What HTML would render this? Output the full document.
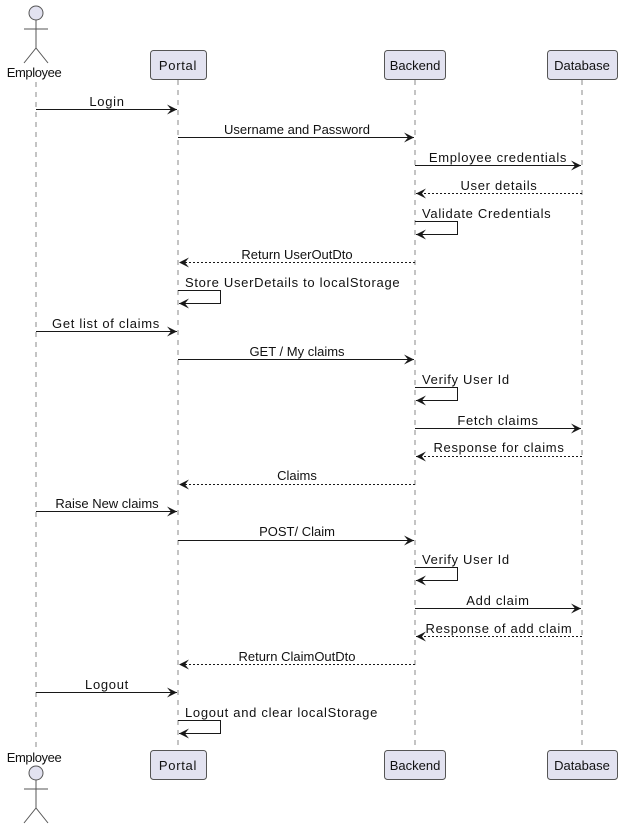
<!DOCTYPE html>
<html><head><meta charset="utf-8"><style>
html,body{margin:0;padding:0;background:#fff;}
svg{display:block;}
text{font-family:"Liberation Sans",sans-serif;font-size:13px;fill:#111;}
.sp{letter-spacing:0.7px;}
</style></head><body>
<svg width="623" height="830" viewBox="0 0 623 830" xmlns="http://www.w3.org/2000/svg">
<defs>
<marker id="a" viewBox="0 0 10 10" refX="10" refY="5" markerWidth="10" markerHeight="10" markerUnits="userSpaceOnUse" orient="auto">
<path d="M0,0 L10,5 L0,10 L4,5 Z" fill="#181818"/>
</marker>
</defs>
<g stroke="#888" stroke-dasharray="5,5" stroke-width="1">
<line x1="36" y1="82" x2="36" y2="752"/>
<line x1="178" y1="80" x2="178" y2="750"/>
<line x1="415" y1="80" x2="415" y2="750"/>
<line x1="582" y1="80" x2="582" y2="750"/>
</g>
<g fill="#e2e2f0" stroke="#555" stroke-width="1">
<rect x="150.5" y="50.5" width="56" height="29" rx="3"/>
<rect x="384.5" y="50.5" width="61" height="29" rx="3"/>
<rect x="547.5" y="50.5" width="70" height="29" rx="3"/>
<rect x="150.5" y="750.5" width="56" height="29" rx="3"/>
<rect x="384.5" y="750.5" width="61" height="29" rx="3"/>
<rect x="547.5" y="750.5" width="70" height="29" rx="3"/>
<circle cx="36" cy="13" r="7"/>
<circle cx="36" cy="773" r="7"/>
</g>
<g stroke="#555" stroke-width="1" fill="none">
<line x1="36" y1="20" x2="36" y2="48"/><line x1="24" y1="29" x2="48" y2="29"/>
<path d="M24,63 L36,48 L48,63"/>
<line x1="36" y1="780" x2="36" y2="808"/><line x1="24" y1="789" x2="48" y2="789"/>
<path d="M24,823 L36,808 L48,823"/>
</g>
<text x="178" y="70" text-anchor="middle" font-size="14" class="sp">Portal</text>
<text x="415" y="70" text-anchor="middle">Backend</text>
<text x="582" y="70" text-anchor="middle">Database</text>
<text x="178" y="770" text-anchor="middle" font-size="14" class="sp">Portal</text>
<text x="415" y="770" text-anchor="middle">Backend</text>
<text x="582" y="770" text-anchor="middle">Database</text>
<text x="34" y="77" text-anchor="middle" style="letter-spacing:-0.4px">Employee</text>
<text x="34" y="762" text-anchor="middle" style="letter-spacing:-0.4px">Employee</text>
<g stroke="#181818" stroke-width="1" fill="none">
<line x1="36" y1="109.5" x2="177" y2="109.5" marker-end="url(#a)"/>
<line x1="178" y1="137.5" x2="414" y2="137.5" marker-end="url(#a)"/>
<line x1="415" y1="165.5" x2="581" y2="165.5" marker-end="url(#a)"/>
<line x1="582" y1="193.5" x2="416" y2="193.5" stroke-dasharray="2,2" marker-end="url(#a)"/>
<path d="M415,221.5 H457.5 V234.5 H416" marker-end="url(#a)"/>
<line x1="415" y1="262.5" x2="179" y2="262.5" stroke-dasharray="2,2" marker-end="url(#a)"/>
<path d="M178,290.5 H220.5 V303.5 H179" marker-end="url(#a)"/>
<line x1="36" y1="331.5" x2="177" y2="331.5" marker-end="url(#a)"/>
<line x1="178" y1="359.5" x2="414" y2="359.5" marker-end="url(#a)"/>
<path d="M415,387.5 H457.5 V400.5 H416" marker-end="url(#a)"/>
<line x1="415" y1="428.5" x2="581" y2="428.5" marker-end="url(#a)"/>
<line x1="582" y1="456.5" x2="416" y2="456.5" stroke-dasharray="2,2" marker-end="url(#a)"/>
<line x1="415" y1="484.5" x2="179" y2="484.5" stroke-dasharray="2,2" marker-end="url(#a)"/>
<line x1="36" y1="511.5" x2="177" y2="511.5" marker-end="url(#a)"/>
<line x1="178" y1="540.5" x2="414" y2="540.5" marker-end="url(#a)"/>
<path d="M415,567.5 H457.5 V580.5 H416" marker-end="url(#a)"/>
<line x1="415" y1="608.5" x2="581" y2="608.5" marker-end="url(#a)"/>
<line x1="582" y1="636.5" x2="416" y2="636.5" stroke-dasharray="2,2" marker-end="url(#a)"/>
<line x1="415" y1="664.5" x2="179" y2="664.5" stroke-dasharray="2,2" marker-end="url(#a)"/>
<line x1="36" y1="692.5" x2="177" y2="692.5" marker-end="url(#a)"/>
<path d="M178,720.5 H220.5 V733.5 H179" marker-end="url(#a)"/>
</g>
<text x="107" y="106" text-anchor="middle" class="sp">Login</text>
<text x="297" y="134" text-anchor="middle">Username and Password</text>
<text x="498" y="162" text-anchor="middle" class="sp">Employee credentials</text>
<text x="499" y="190" text-anchor="middle" class="sp">User details</text>
<text x="422" y="218" class="sp">Validate Credentials</text>
<text x="297" y="259" text-anchor="middle">Return UserOutDto</text>
<text x="185" y="287" class="sp">Store UserDetails to localStorage</text>
<text x="106" y="328" text-anchor="middle" class="sp">Get list of claims</text>
<text x="297" y="356" text-anchor="middle">GET / My claims</text>
<text x="422" y="384" class="sp">Verify User Id</text>
<text x="498" y="425" text-anchor="middle" class="sp">Fetch claims</text>
<text x="499" y="452" text-anchor="middle" class="sp">Response for claims</text>
<text x="297" y="480" text-anchor="middle">Claims</text>
<text x="107" y="508" text-anchor="middle">Raise New claims</text>
<text x="297" y="536" text-anchor="middle">POST/ Claim</text>
<text x="422" y="564" class="sp">Verify User Id</text>
<text x="498" y="605" text-anchor="middle" class="sp">Add claim</text>
<text x="499" y="633" text-anchor="middle" class="sp">Response of add claim</text>
<text x="297" y="661" text-anchor="middle">Return ClaimOutDto</text>
<text x="107" y="689" text-anchor="middle" class="sp">Logout</text>
<text x="185" y="717" class="sp">Logout and clear localStorage</text>
</svg>
</body></html>
